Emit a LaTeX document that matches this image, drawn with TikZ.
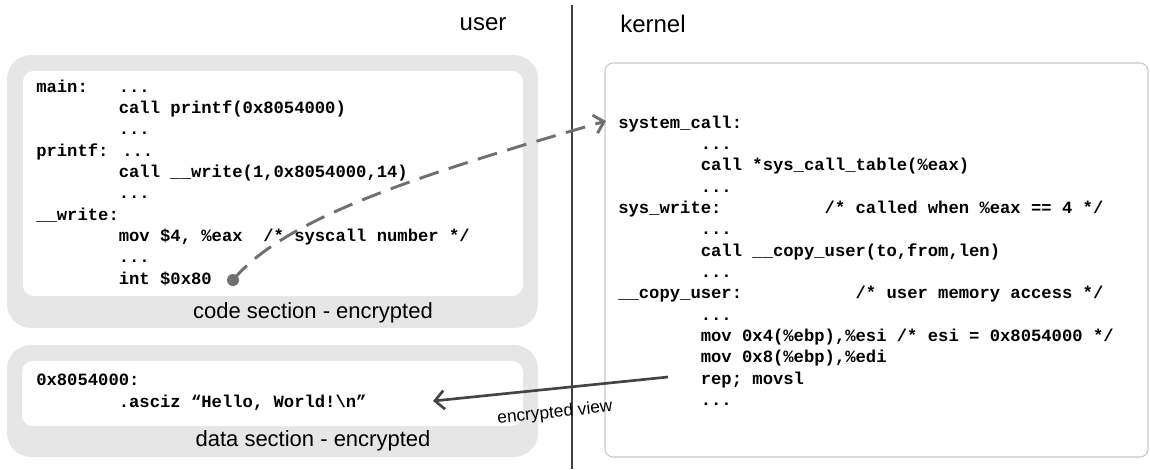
\documentclass[tikz,border=0pt]{standalone}
\usepackage{fontspec}
\setmainfont{Liberation Sans}
\newfontfamily\codefont{Liberation Mono}
\usetikzlibrary{arrows.meta,positioning,calc}
\definecolor{sectgray}{HTML}{E6E6E6}
\definecolor{framegray}{HTML}{C8C8C8}
\definecolor{dashgray}{HTML}{707070}
\definecolor{viewgray}{HTML}{444444}
\newcommand{\skipc}[1]{\hspace*{#1\fontcharwd\font`\x}}

\begin{document}
\begin{tikzpicture}[x=0.75pt, y=-0.75pt,
    codetext/.style={anchor=north west, inner sep=0pt, align=left,
        font=\codefont\bfseries\fontsize{12.9}{16}\selectfont},
    sectlabel/.style={font=\fontsize{16.5}{20}\selectfont},
    sidelabel/.style={font=\fontsize{18}{22}\selectfont}]
    \useasboundingbox (0,0) rectangle (1150,469);

    % user / kernel split
    \node[sidelabel] (user) at (483,24) {user};
    \node[sidelabel, anchor=west, inner sep=0pt] (kernel) at (620,24) {kernel};
    \coordinate (divtop) at (572,5);
    \coordinate (divbot) at (572,469);
    \draw[line width=1pt, black!75] (divtop) -- (divbot);

    % code section
    \fill[sectgray, rounded corners=18pt] (7,55) rectangle (538,328);
    \fill[white, rounded corners=8pt] (23,71) rectangle (523,296);
    \node[codetext] (ucode) at (36,77) {\strut main:\skipc{3}...\\
        \skipc{8}call printf(0x8054000)\\
        \skipc{8}...\\
        printf: ...\\
        \skipc{8}call \_\_write(1,0x8054000,14)\\
        \skipc{8}...\\
        \_\_write:\\
        \skipc{8}mov \$4, \%eax\skipc{2}/* syscall number */\\
        \skipc{8}...\\
        \skipc{8}int \$0x80};
    \node[sectlabel] (codelbl) at (313,313) {code section - encrypted};

    % data section
    \fill[sectgray, rounded corners=18pt] (7,345) rectangle (538,457);
    \fill[white, rounded corners=8pt] (22,361) rectangle (523,426);
    \node[codetext, font=\codefont\bfseries\fontsize{12.9}{17}\selectfont] (dcode) at (36,369) {\strut 0x8054000:\\
        \skipc{8}.asciz “Hello, World!\textbackslash n”};
    \node[sectlabel] (datalbl) at (313,441) {data section - encrypted};

    % kernel side
    \draw[framegray, line width=0.8pt, rounded corners=6pt] (605,63) rectangle (1148,457);
    \node[codetext] (kcode) at (618,113) {\strut system\_call:\\
        \skipc{8}...\\
        \skipc{8}call *sys\_call\_table(\%eax)\\
        \skipc{8}...\\
        sys\_write:\skipc{10}/* called when \%eax == 4 */\\
        \skipc{8}...\\
        \skipc{8}call \_\_copy\_user(to,from,len)\\
        \skipc{8}...\\
        \_\_copy\_user:\skipc{11}/* user memory access */\\
        \skipc{8}...\\
        \skipc{8}mov 0x4(\%ebp),\%esi /* esi = 0x8054000 */\\
        \skipc{8}mov 0x8(\%ebp),\%edi\\
        \skipc{8}rep; movsl\\
        \skipc{8}...};

    % int 0x80 enters the kernel
    \node[circle, fill=dashgray, inner sep=0pt, minimum size=9pt] (intdot) at (233,280) {};
    \coordinate (sysin) at (606,121);
    \draw[dashgray, line width=2.2pt, dash pattern=on 15pt off 8pt,
        -{Straight Barb[length=7pt,width=14pt]}]
        (intdot.center) .. controls +(51,-61) and +(-192,55) .. (sysin);

    % copy back to the string
    \coordinate (repend) at (668,377);
    \coordinate (strend) at (433,401);
    \draw[viewgray, line width=2pt, -{Straight Barb[length=7pt,width=14pt]}] (repend) -- (strend);
    \node[font=\fontsize{13}{15}\selectfont, rotate=5.8] (viewlbl) at (555,413) {encrypted view};
\end{tikzpicture}
\end{document}
